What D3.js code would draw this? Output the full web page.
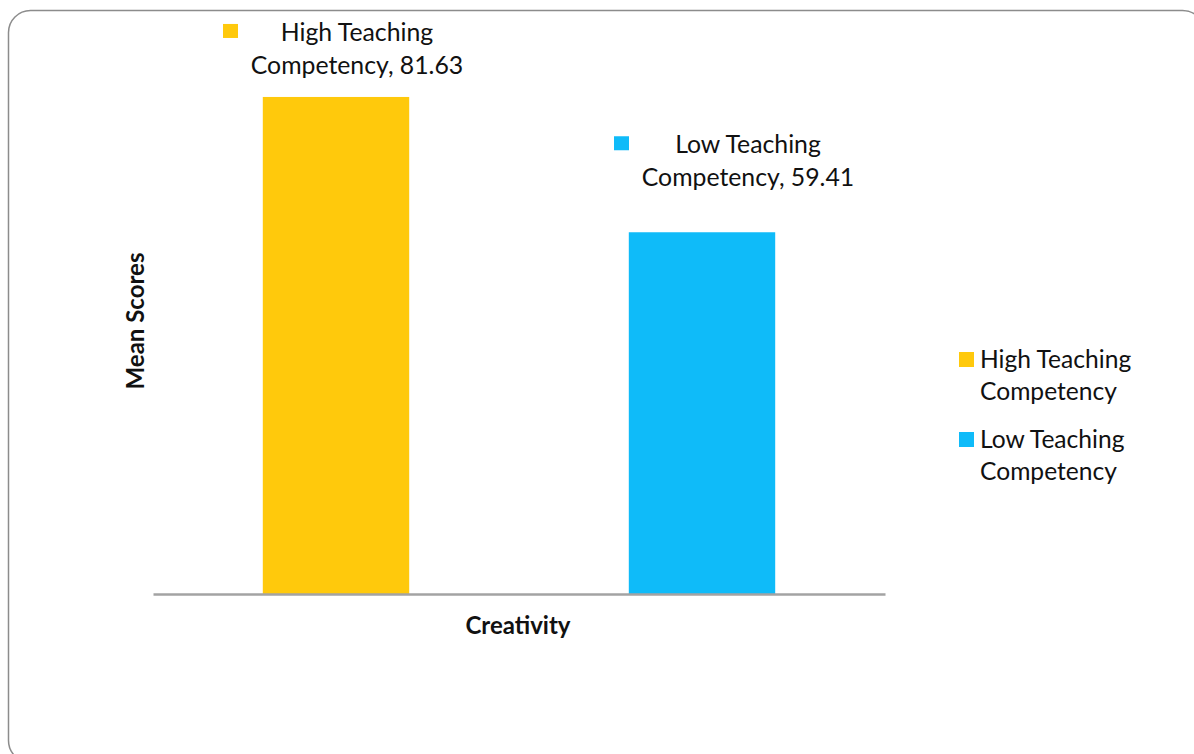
<!DOCTYPE html>
<html>
<head>
<meta charset="utf-8">
<script src="https://cdn.jsdelivr.net/npm/d3@7"></script>
<style>
  html, body { margin: 0; padding: 0; background: #fff; }
  svg { display: block; }
  text { font-family: Lato, "Open Sans", sans-serif; fill: #111; }
</style>
</head>
<body>
<svg id="chart" width="1194" height="754"></svg>
<script>
// Mean creativity scores by teaching competency group
const category = "Creativity";
const seriesNames = ["High Teaching Competency", "Low Teaching Competency"];
const seriesValues = [81.63, 59.41];
const labelLines = [["High Teaching", "Competency, 81.63"], ["Low Teaching", "Competency, 59.41"]];
const legendLines = [["High Teaching", "Competency"], ["Low Teaching", "Competency"]];
const colors = ["#FFC90C", "#0FBBF9"];

const svg = d3.select("#chart");

// outer rounded frame
svg.append("rect")
  .attr("x", 8.5).attr("y", 10.5)
  .attr("width", 1196).attr("height", 752)
  .attr("rx", 22).attr("ry", 22)
  .attr("fill", "none")
  .attr("stroke", "#8c8c8c")
  .attr("stroke-width", 1.5);

const plot = { left: 153, right: 885, top: 46, bottom: 594 };

const x = d3.scaleBand()
  .domain(seriesNames)
  .range([plot.left, plot.right])
  .paddingInner(0.6)
  .paddingOuter(0.3);

const y = d3.scaleLinear()
  .domain([0, 90])
  .range([plot.bottom, plot.top]);

// bars
svg.append("g").selectAll("rect")
  .data(seriesNames)
  .join("rect")
  .attr("x", d => x(d))
  .attr("y", (d, i) => y(seriesValues[i]))
  .attr("width", x.bandwidth())
  .attr("height", (d, i) => y(0) - y(seriesValues[i]))
  .attr("fill", (d, i) => colors[i]);

// category axis baseline
const xAxis = d3.axisBottom(d3.scalePoint().domain([category]).range([plot.left, plot.right]))
  .tickSize(0).tickFormat("");
const axG = svg.append("g").attr("transform", `translate(0,${y(0)})`).call(xAxis);
axG.select(".domain").attr("stroke", "#a3a3a3").attr("stroke-width", 2.5);

// axis titles
svg.append("text")
  .attr("x", (plot.left + plot.right) / 2 - 1)
  .attr("y", 634)
  .attr("text-anchor", "middle")
  .style("font-weight", "bold")
  .style("font-size", "24px")
  .text(category);

svg.append("text")
  .attr("transform", `translate(144,${(plot.top + plot.bottom) / 2 + 1}) rotate(-90)`)
  .attr("text-anchor", "middle")
  .style("font-weight", "bold")
  .style("font-size", "24px")
  .text("Mean Scores");

// data labels with legend keys, placed above each bar
const labelShift = [{ dx: 21, dy: -64 }, { dx: 46, dy: -87 }];
const labels = svg.append("g").selectAll("g")
  .data(seriesNames)
  .join("g")
  .attr("transform", (d, i) => {
    const cx = x(d) + x.bandwidth() / 2 + labelShift[i].dx;
    const cy = y(seriesValues[i]) + labelShift[i].dy;
    return `translate(${cx},${cy})`;
  });

labels.append("rect")
  .attr("x", -134).attr("y", -9)
  .attr("width", 15).attr("height", 14)
  .attr("fill", (d, i) => colors[i]);

labels.each(function (d, i) {
  const g = d3.select(this);
  labelLines[i].forEach((line, k) => {
    g.append("text")
      .attr("x", 0)
      .attr("y", k * 33 + 8)
      .attr("text-anchor", "middle")
      .style("font-size", "24.8px")
      .text(line);
  });
});

// legend
const legend = svg.append("g").attr("transform", "translate(959,352)");
const items = legend.selectAll("g")
  .data(seriesNames)
  .join("g")
  .attr("transform", (d, i) => `translate(0,${i * 80})`);

items.append("rect")
  .attr("x", 0).attr("y", 0)
  .attr("width", 15).attr("height", 15)
  .attr("fill", (d, i) => colors[i]);

items.each(function (d, i) {
  const g = d3.select(this);
  legendLines[i].forEach((line, k) => {
    g.append("text")
      .attr("x", 21)
      .attr("y", 16 + k * 32)
      .style("font-size", "24.6px")
      .text(line);
  });
});
</script>
</body>
</html>
